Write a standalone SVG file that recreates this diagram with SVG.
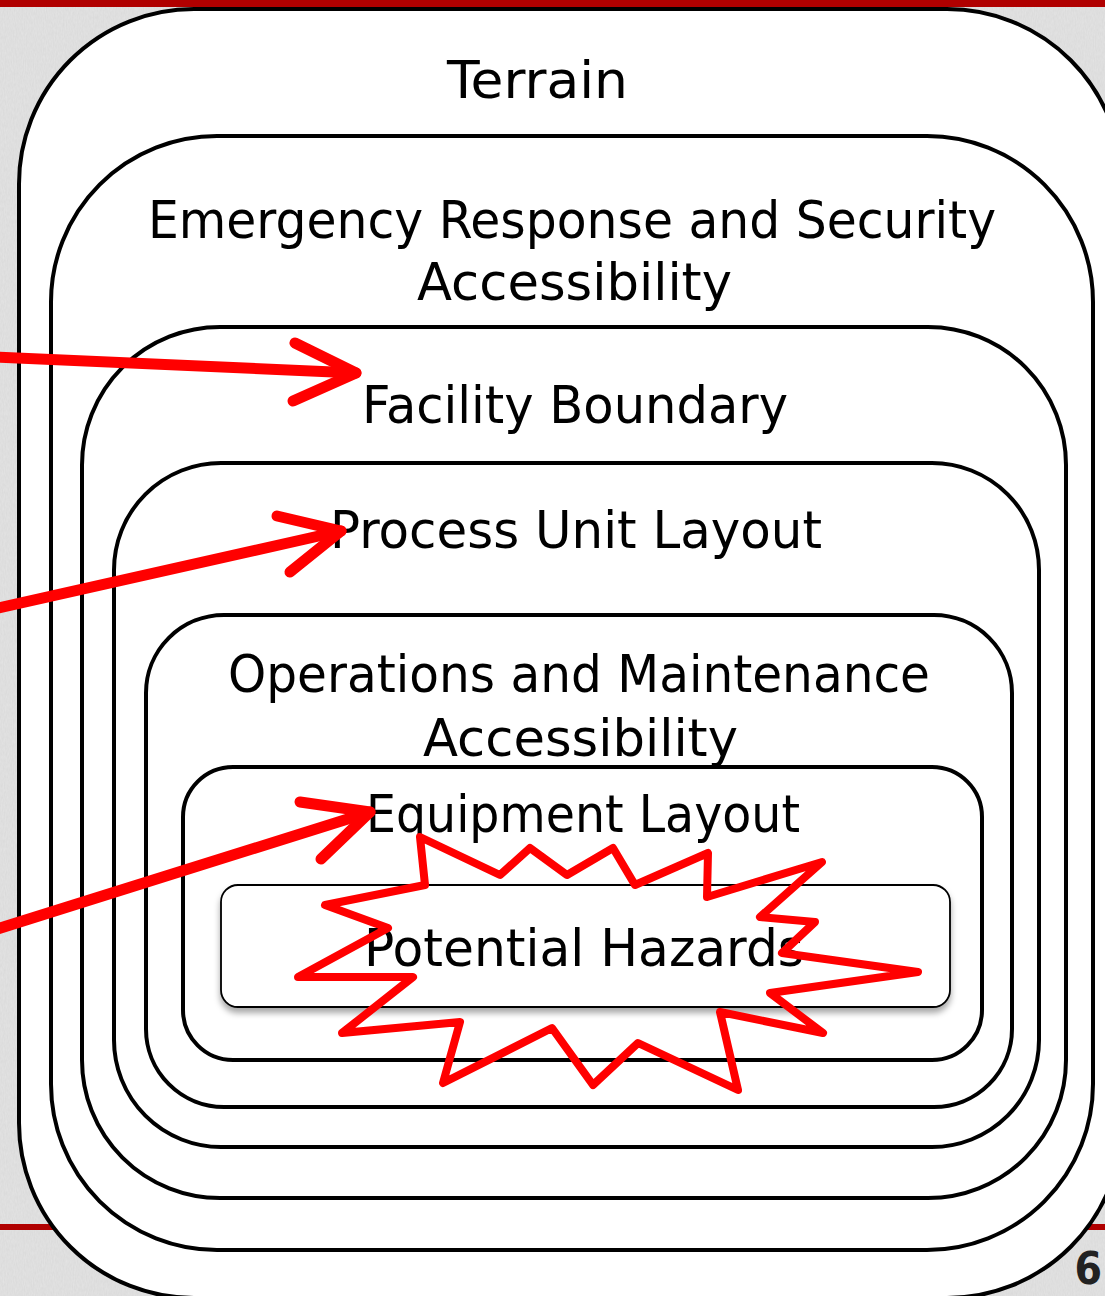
<svg xmlns="http://www.w3.org/2000/svg" width="1105" height="1296" viewBox="0 0 1105 1296">
  <defs>
    <filter id="noise" x="0" y="0" width="100%" height="100%">
      <feTurbulence type="fractalNoise" baseFrequency="0.9 0.25" numOctaves="2" seed="4" result="t"/>
      <feColorMatrix in="t" type="matrix" values="0 0 0 0 0.55  0 0 0 0 0.55  0 0 0 0 0.55  0 0 0 0.35 0"/>
    </filter>
    <filter id="shadow" x="-5%" y="-20%" width="110%" height="150%">
      <feDropShadow dx="0" dy="5" stdDeviation="3" flood-color="#000" flood-opacity="0.35"/>
    </filter>
    <style>
      .box { fill: #ffffff; stroke: #000000; stroke-width: 4; }
      .hz { fill: #ffffff; stroke: #000000; stroke-width: 1.8; }
      .lbl { font-family: "DejaVu Sans", "Liberation Sans", sans-serif; font-size: 52px; fill: #000000; }
      .red { fill: none; stroke: #ff0000; stroke-linecap: round; stroke-linejoin: round; }
      .arrow { stroke-width: 11; }
      .burst { stroke-width: 8; }
    </style>
  </defs>

  <!-- background -->
  <rect x="0" y="0" width="1105" height="1296" fill="#e4e4e4"/>
  <rect x="0" y="0" width="1105" height="1296" filter="url(#noise)"/>
  <rect x="0" y="1224" width="1105" height="6" fill="#b00000"/>
  <text x="1102" y="1284" text-anchor="end" font-family="DejaVu Sans Condensed, Liberation Sans Narrow, sans-serif" font-weight="bold" font-size="44" fill="#222222">6</text>

  <g id="terrain">
    <rect class="box" x="19" y="9" width="1103" height="1289" rx="175" ry="175"/>
    <text class="lbl" x="447" y="98" textLength="181" lengthAdjust="spacingAndGlyphs">Terrain</text>
  </g>

  <g id="emergency">
    <rect class="box" x="51" y="136" width="1042" height="1114" rx="166" ry="166"/>
    <text class="lbl" x="148" y="238" textLength="848" lengthAdjust="spacingAndGlyphs">Emergency Response and Security</text>
    <text class="lbl" x="417" y="300" textLength="315" lengthAdjust="spacingAndGlyphs">Accessibility</text>
  </g>

  <g id="facility">
    <rect class="box" x="82" y="327" width="984" height="871" rx="138" ry="138"/>
    <text class="lbl" x="362" y="423" textLength="426" lengthAdjust="spacingAndGlyphs">Facility Boundary</text>
  </g>

  <g id="process">
    <rect class="box" x="114" y="463" width="925" height="684" rx="107" ry="107"/>
    <text class="lbl" x="330" y="548" textLength="492" lengthAdjust="spacingAndGlyphs">Process Unit Layout</text>
  </g>

  <g id="operations">
    <rect class="box" x="146" y="615" width="866" height="492" rx="78" ry="78"/>
    <text class="lbl" x="228" y="692" textLength="702" lengthAdjust="spacingAndGlyphs">Operations and Maintenance</text>
    <text class="lbl" x="423" y="756" textLength="315" lengthAdjust="spacingAndGlyphs">Accessibility</text>
  </g>

  <g id="equipment">
    <rect class="box" x="183" y="767" width="799" height="293" rx="50" ry="50"/>
    <text class="lbl" x="366" y="832" textLength="434" lengthAdjust="spacingAndGlyphs">Equipment Layout</text>
  </g>

  <g id="hazards">
    <rect class="hz" x="221" y="885" width="729" height="122" rx="17" ry="17" filter="url(#shadow)"/>
    <text class="lbl" x="364" y="966" textLength="440" lengthAdjust="spacingAndGlyphs">Potential Hazards</text>
  </g>

  <g id="starburst">
    <polygon class="red burst" points="420,837 500,875 530,848 567,875 613,848 635,885 708,853 707,897 822,862 760,917 815,922 782,953 918,972 770,993 823,1033 720,1012 738,1090 638,1043 593,1085 552,1028 443,1083 460,1022 342,1033 413,977 298,977 388,928 325,905 425,885"/>
  </g>

  <g id="connectors">
    <line class="red arrow" x1="-6" y1="357" x2="356" y2="373"/>
    <polyline class="red arrow" points="295,343 356,373 293,401"/>
    <line class="red arrow" x1="-6" y1="609" x2="341" y2="531"/>
    <polyline class="red arrow" points="277,516 341,531 290,572"/>
    <line class="red arrow" x1="-6" y1="930" x2="370" y2="812"/>
    <polyline class="red arrow" points="300,802 370,812 321,859"/>
  </g>

  <rect x="0" y="0" width="1105" height="7" fill="#b00000"/>
</svg>
